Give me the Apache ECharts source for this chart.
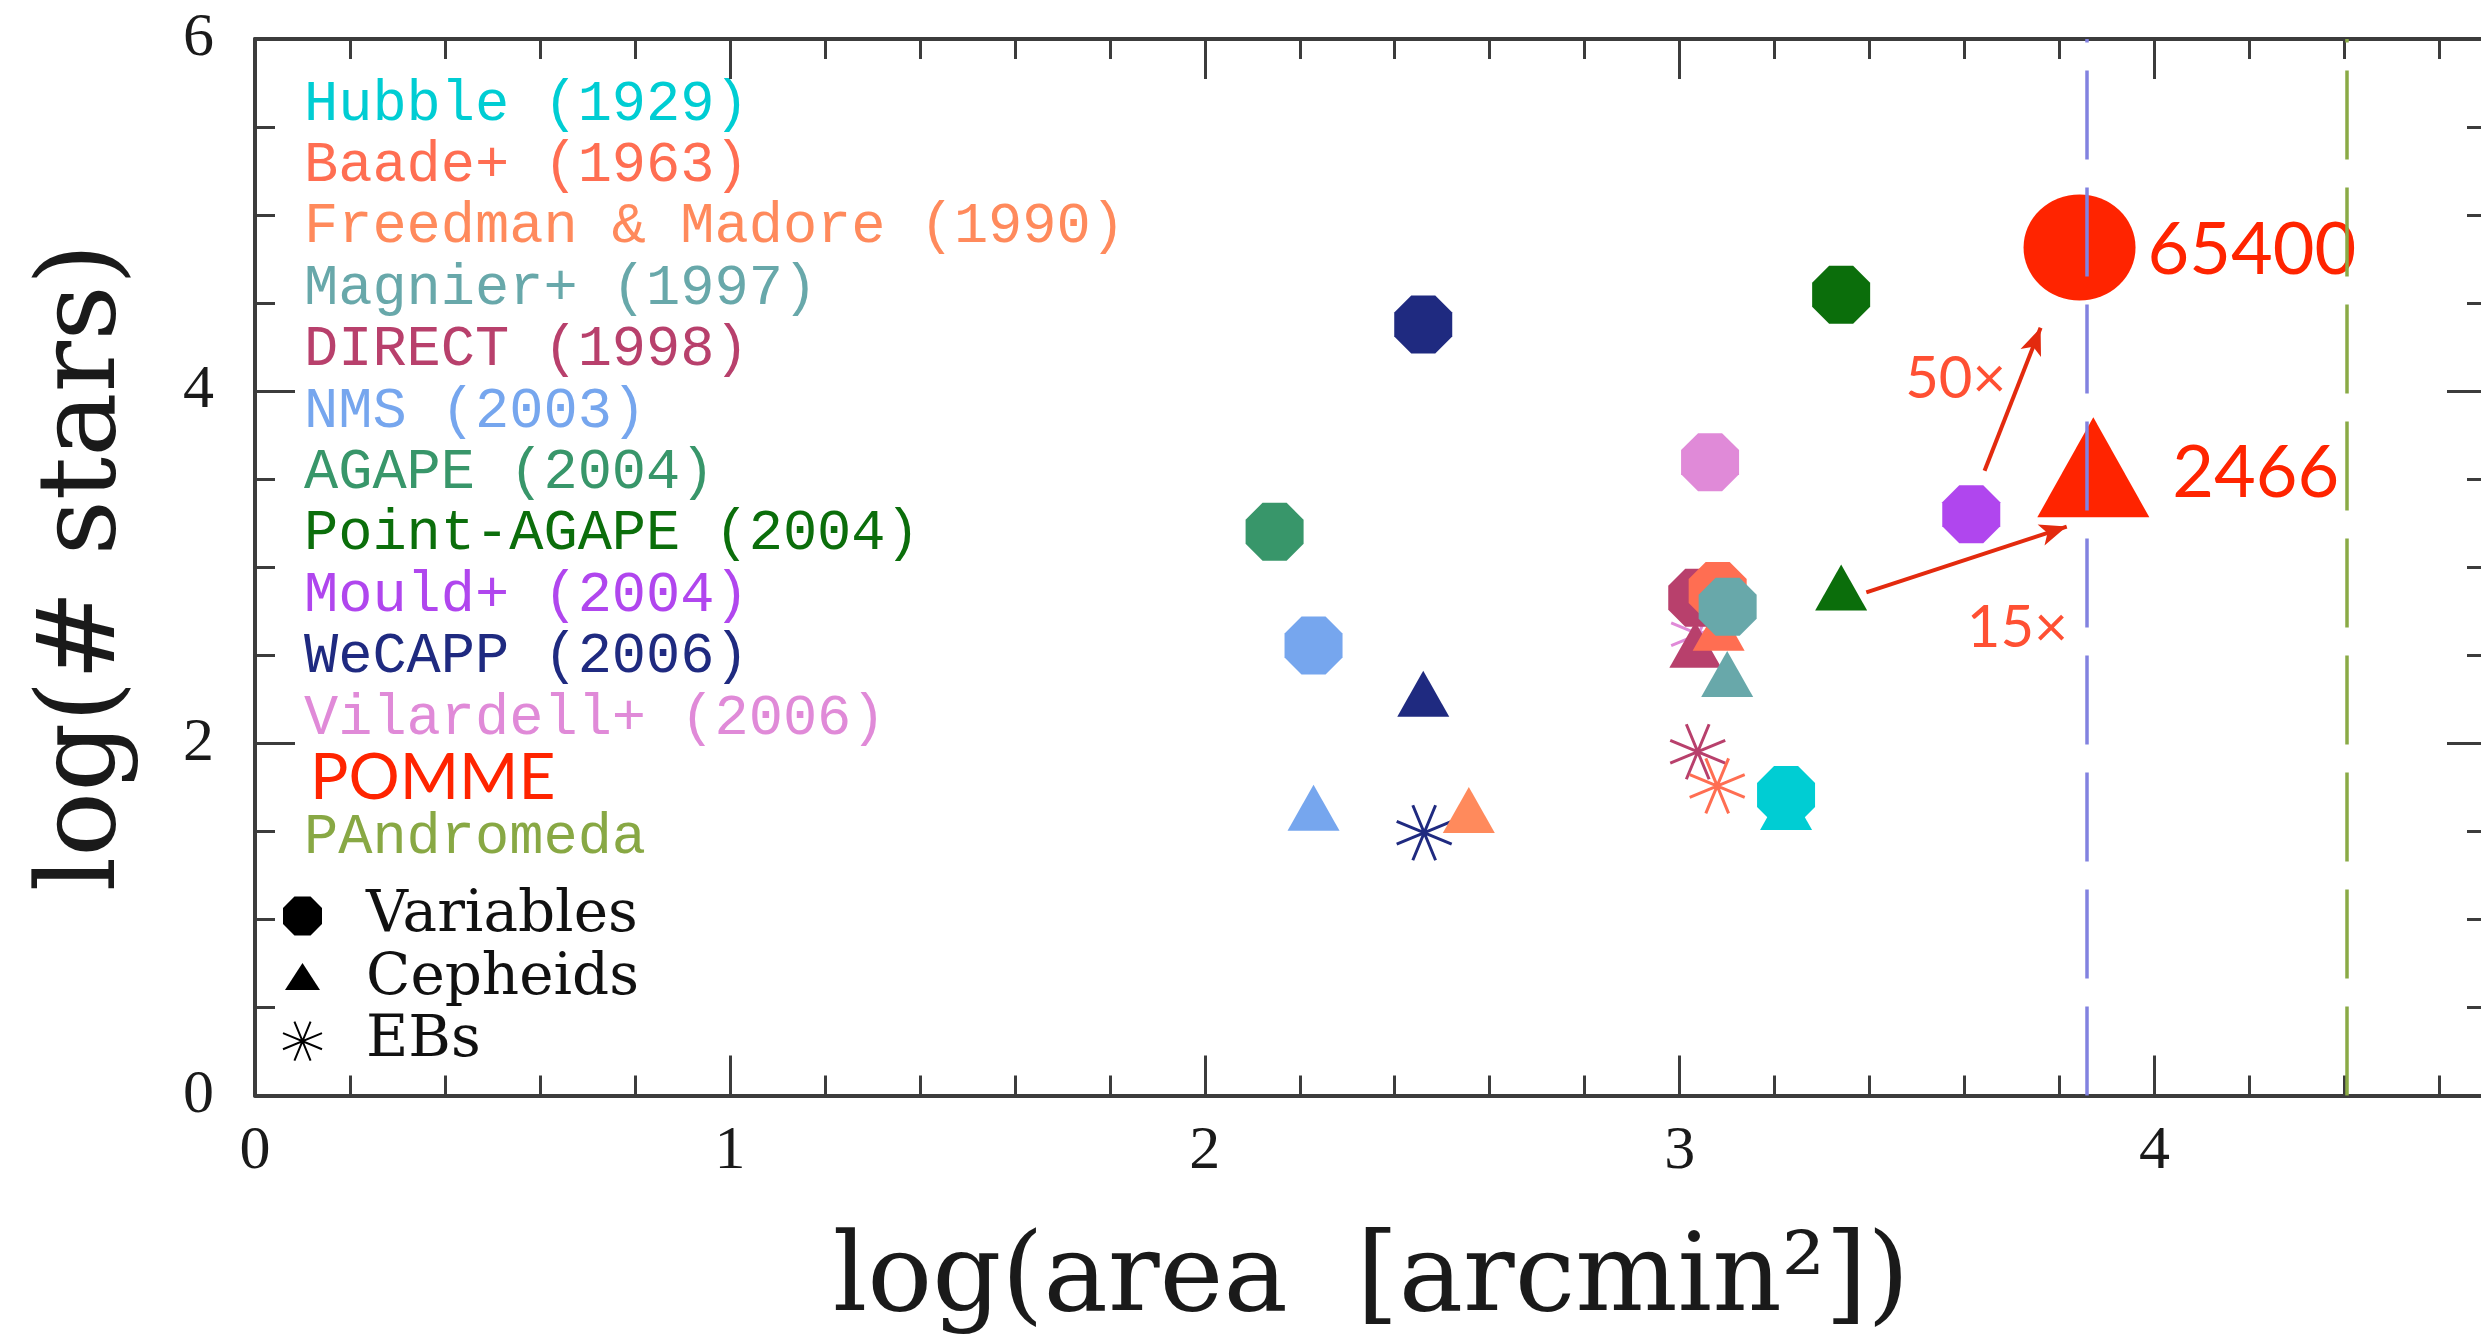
<!DOCTYPE html>
<html>
<head>
<meta charset="utf-8">
<script src="https://cdn.jsdelivr.net/npm/echarts@6/dist/echarts.min.js"></script>
<style>
  html, body { margin: 0; padding: 0; background: #ffffff; }
  #chart { width: 2481px; height: 1335px; }
</style>
</head>
<body>
<div id="chart"></div>
<script>
// M31 variable-star surveys: survey area vs. number of stars found (both log10)
const surveys = [
  'Hubble (1929)', 'Baade+ (1963)', 'Freedman & Madore (1990)', 'Magnier+ (1997)',
  'DIRECT (1998)', 'NMS (2003)', 'AGAPE (2004)', 'Point-AGAPE (2004)',
  'Mould+ (2004)', 'WeCAPP (2006)', 'Vilardell+ (2006)', 'POMME', 'PAndromeda'
];
const surveyColors = [
  '#00cdd3', '#ff6e52', '#ff8a5c', '#68a8aa',
  '#b8406c', '#76a6ee', '#38966a', '#0b6e0b',
  '#b046ee', '#1f2a80', '#e08ad8', '#ff2400', '#88a844'
];

// [survey, log(area [arcmin^2]), log(# stars)]
const variableStars = [
  ['AGAPE (2004)', 2.147, 3.201],
  ['NMS (2003)', 2.229, 2.555],
  ['WeCAPP (2006)', 2.460, 4.378],
  ['Vilardell+ (2006)', 3.064, 3.597],
  ['DIRECT (1998)', 3.037, 2.827],
  ['Baade+ (1963)', 3.080, 2.865],
  ['Magnier+ (1997)', 3.101, 2.776],
  ['Hubble (1929)', 3.224, 1.706],
  ['Point-AGAPE (2004)', 3.340, 4.548],
  ['Mould+ (2004)', 3.614, 3.301]
];
const cepheids = [
  ['NMS (2003)', 2.229, 1.634],
  ['WeCAPP (2006)', 2.460, 2.282],
  ['Freedman & Madore (1990)', 2.556, 1.622],
  ['DIRECT (1998)', 3.033, 2.560],
  ['Baade+ (1963)', 3.082, 2.657],
  ['Magnier+ (1997)', 3.100, 2.394],
  ['Hubble (1929)', 3.224, 1.639],
  ['Point-AGAPE (2004)', 3.340, 2.885]
];
const eclipsingBinaries = [
  ['WeCAPP (2006)', 2.462, 1.492],
  ['Vilardell+ (2006)', 3.040, 2.620],
  ['DIRECT (1998)', 3.038, 1.952],
  ['Baade+ (1963)', 3.079, 1.758]
];

// POMME totals: variables, Cepheids
const pommeArea = [3.842, 3.871];
const pommeCounts = [65400, 2466];

// full survey footprints, log(area)
const surveyAreas = [['POMME', 3.858], ['PAndromeda', 4.405]];

// gain arrows [x0, y0, x1, y1] and their labels [text, x, y]
const gainArrows = [[3.642, 3.548, 3.760, 4.360], [3.393, 2.857, 3.815, 3.231]];
const gainLabels = [['50×', 3.581, 4.069], ['15×', 3.711, 2.655]];

// ---------------------------------------------------------------------------
const OCTAGON = 'path://M29.3,0L70.7,0L100,29.3L100,70.7L70.7,100L29.3,100L0,70.7L0,29.3Z';
const ASTERISK = 'path://M96.19,30.87L3.81,69.13M69.13,3.81L30.87,96.19M30.87,3.81L69.13,96.19M3.81,30.87L96.19,69.13';
const KEY_TRIANGLE = 'path://M0,0M39,39M19.5,4L37,31L2,31Z';
const RED = '#ff2400';
const ARROW_RED = '#e32a0e';
const AXIS = '#3c3c3c';
const areaLineColors = { POMME: '#8282e0', PAndromeda: '#8aaa46' };

const colorOf = name => surveyColors[surveys.indexOf(name)];
const filled = rows => rows.map(([s, x, y]) => ({ name: s, value: [x, y], itemStyle: { color: colorOf(s) } }));
const stroked = rows => rows.map(([s, x, y]) => ({ name: s, value: [x, y], itemStyle: { borderColor: colorOf(s) } }));

const tickStyle = { color: AXIS, width: 3 };
const tickFont = { fontFamily: 'Liberation Serif', fontSize: 62, color: '#1a1a1a', lineHeight: 62 };
const titleFont = { fontFamily: 'DejaVu Serif', fontSize: 108, color: '#1a1a1a', lineHeight: 108 };

// one axis per tick length: long ticks at labelled values, short ticks in between;
// every axis keeps to its own frame edge (no zero-crossing)
function xAxisDef(position, interval, tickLen, withLabels, withLine) {
  return {
    type: 'value', position, min: 0, max: 4.7, interval,
    axisLine: { show: withLine, onZero: false, lineStyle: { color: AXIS, width: 4 } },
    axisTick: { show: true, inside: true, length: tickLen, lineStyle: tickStyle },
    axisLabel: Object.assign({ show: withLabels, margin: 25, showMaxLabel: false }, tickFont),
    splitLine: { show: false }
  };
}
function yAxisDef(position, interval, tickLen, withLabels, withLine) {
  return {
    type: 'value', position, min: 0, max: 6, interval,
    axisLine: { show: withLine, onZero: false, lineStyle: { color: AXIS, width: 4 } },
    axisTick: { show: true, inside: true, length: tickLen, lineStyle: tickStyle },
    axisLabel: Object.assign({ show: withLabels, margin: 41 }, tickFont),
    splitLine: { show: false }
  };
}

const xMain = xAxisDef('bottom', 1, 40, true, true);
xMain.name = 'log(area  [arcmin²])';
xMain.nameLocation = 'middle';
xMain.nameGap = 132;
xMain.nameTextStyle = titleFont;

const yMain = yAxisDef('left', 2, 40, true, true);
yMain.name = 'log(# stars)';
yMain.nameLocation = 'middle';
yMain.nameGap = 115;
yMain.nameTextStyle = titleFont;

// survey names, written in their own colours
const nameRows = surveys.map((s, i) => {
  let y = 104.6 + i * 61.4;
  let font = { fontFamily: 'Liberation Mono', fontSize: 57 };
  let x = 304;
  if (s === 'POMME') { y = 778; font = { fontFamily: 'Lato', fontSize: 64 }; x = 310; }
  if (s === 'PAndromeda') { y = 837.6; }
  return {
    type: 'text', x, y, silent: true,
    style: Object.assign({ text: s, fill: surveyColors[i], verticalAlign: 'middle', align: 'left' }, font)
  };
});

const option = {
  animation: false,
  backgroundColor: '#ffffff',
  grid: { left: 255, top: 39, right: -6, bottom: 239.5, containLabel: false, outerBoundsMode: 'none' },
  xAxis: [
    xMain,
    xAxisDef('bottom', 0.2, 20, false, false),
    xAxisDef('top', 1, 40, false, true),
    xAxisDef('top', 0.2, 20, false, false)
  ],
  yAxis: [
    yMain,
    yAxisDef('left', 0.5, 20, false, false),
    yAxisDef('right', 2, 40, false, true),
    yAxisDef('right', 0.5, 20, false, false)
  ],
  legend: {
    data: [{ name: 'Variables' }, { name: 'Cepheids', icon: KEY_TRIANGLE }, { name: 'EBs' }],
    orient: 'vertical', left: 282, top: 887, padding: 0,
    itemWidth: 117, itemHeight: 39, itemGap: 4.6,
    selectedMode: false,
    textStyle: { fontFamily: 'DejaVu Serif', fontSize: 58, lineHeight: 58, color: '#111111' }
  },
  graphic: nameRows,
  series: [
    {
      name: 'EBs', type: 'scatter', symbol: ASTERISK, symbolSize: 55,
      itemStyle: { color: 'rgba(0,0,0,0)', borderColor: '#000000', borderWidth: 3, opacity: 1 },
      emphasis: { disabled: true },
      data: stroked(eclipsingBinaries),
      markLine: {
        silent: true, symbol: 'none', animation: false, label: { show: false },
        data: surveyAreas.map(([name, x]) => [
          { name, coord: [x, 0], lineStyle: { color: areaLineColors[name], width: 3.5, type: [89, 28] } },
          { coord: [x, 6] }
        ])
      }
    },
    {
      name: 'Cepheids', type: 'scatter', symbol: 'triangle', symbolSize: [52, 46],
      itemStyle: { color: '#000000', opacity: 1 },
      emphasis: { disabled: true },
      data: filled(cepheids)
    },
    {
      name: 'Variables', type: 'scatter', symbol: OCTAGON, symbolSize: 58,
      itemStyle: { color: '#000000', opacity: 1 },
      emphasis: { disabled: true },
      data: filled(variableStars)
    },
    {
      name: 'POMME', type: 'scatter',
      itemStyle: { color: RED, opacity: 1 },
      emphasis: { disabled: true },
      label: {
        show: true, position: 'right', color: RED, fontFamily: 'Lato', fontSize: 72,
        formatter: p => String(pommeCounts[p.dataIndex])
      },
      data: [
        {
          value: [pommeArea[0], Math.log10(pommeCounts[0])],
          symbol: 'circle', symbolSize: [112, 106],
          label: { distance: 12, offset: [0, 3] }
        },
        {
          value: [pommeArea[1], Math.log10(pommeCounts[1])],
          symbol: 'triangle', symbolSize: [112, 100], symbolOffset: [0, -31],
          label: { distance: 23, offset: [0, 7] }
        }
      ]
    },
    {
      name: 'gain', type: 'scatter', symbolSize: 1,
      itemStyle: { color: 'rgba(0,0,0,0)' },
      emphasis: { disabled: true },
      label: {
        show: true, position: 'inside', formatter: '{b}',
        color: RED, fontFamily: 'Lato', fontSize: 58
      },
      data: gainLabels.map(([t, x, y]) => ({ name: t, value: [x, y] })),
      markLine: {
        silent: true, animation: false, symbol: ['none', 'arrow'], symbolSize: [16.5, 27],
        label: { show: false },
        lineStyle: { color: ARROW_RED, width: 4, type: 'solid' },
        data: gainArrows.map(([x0, y0, x1, y1]) => [{ coord: [x0, y0] }, { coord: [x1, y1] }])
      }
    }
  ]
};

const chart = echarts.init(document.getElementById('chart'), null, { renderer: 'canvas' });
chart.setOption(option);
</script>
</body>
</html>
